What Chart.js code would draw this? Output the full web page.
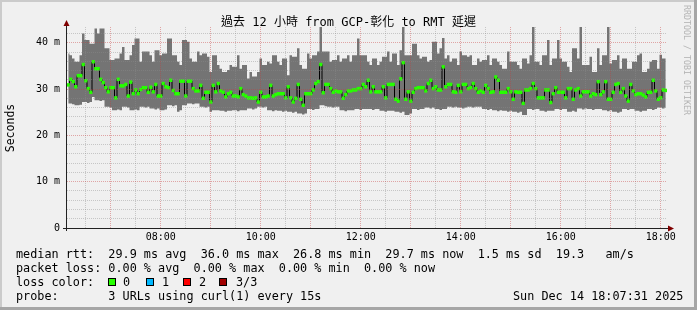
<!DOCTYPE html>
<html>
<head>
<meta charset="utf-8">
<script src="https://cdn.jsdelivr.net/npm/chart.js@4/dist/chart.umd.min.js"></script>
<style>
html, body { margin: 0; padding: 0; }
body { width: 697px; height: 310px; overflow: hidden; position: relative; background: #f0f0f0; }
#chart { position: absolute; left: 0; top: 0; }
.t { position: absolute; white-space: pre; font-family: "DejaVu Sans Mono", "Noto Sans CJK TC", monospace; color: #000; }
.leg { font-size: 11.8px; line-height: 14px; left: 16px; }
.box { position: absolute; width: 6px; height: 6px; border: 1px solid #000; }
.edge { position: absolute; }
</style>
</head>
<body>
<canvas id="chart" width="697" height="310"></canvas>

<div class="edge" style="left:0;top:0;width:697px;height:2px;background:#cbcbcb"></div>
<div class="edge" style="left:0;top:0;width:2px;height:310px;background:#cbcbcb"></div>
<div class="edge" style="left:0;top:307px;width:697px;height:3px;background:#a6a6a6"></div>
<div class="edge" style="left:694px;top:0;width:3px;height:310px;background:#a6a6a6"></div>

<div class="t" style="left:0;width:697px;top:14px;text-align:center;font-size:12px;line-height:16px">過去 12 小時 from GCP-彰化 to RMT 延遲</div>
<div class="t" style="left:-20px;top:121px;width:60px;text-align:center;font-size:11.5px;line-height:14px;transform:rotate(-90deg)">Seconds</div>
<div class="t" style="left:632px;top:55px;width:110px;text-align:center;font-size:8.3px;line-height:10px;color:#b4b4b4;transform:rotate(90deg)">RRDTOOL / TOBI OETIKER</div>

<div class="t leg" style="top:247px">median rtt:  29.9 ms avg  36.0 ms max  26.8 ms min  29.7 ms now  1.5 ms sd  19.3   am/s</div>
<div class="t leg" style="top:261px">packet loss: 0.00 % avg  0.00 % max  0.00 % min  0.00 % now</div>
<div class="t leg" style="top:275px">loss color:</div>
<div class="box" style="left:108px;top:278px;background:#26ff00"></div>
<div class="t leg" style="top:275px;left:123px">0</div>
<div class="box" style="left:146px;top:278px;background:#00b8ff"></div>
<div class="t leg" style="top:275px;left:162px">1</div>
<div class="box" style="left:183px;top:278px;background:#ff0000"></div>
<div class="t leg" style="top:275px;left:199px">2</div>
<div class="box" style="left:219px;top:278px;background:#a10000"></div>
<div class="t leg" style="top:275px;left:236px">3/3</div>
<div class="t leg" style="top:289px">probe:       3 URLs using curl(1) every 15s</div>
<div class="t leg" style="top:289px;left:513px">Sun Dec 14 18:07:31 2025</div>

<script>
// 12 hours ending Sun Dec 14 18:07:31, one value every 3 minutes (ms)
const startHour = 6 + 7.52 / 60;
const stepHours = 3 / 60;

const rttMedian = [
  30.9,32.1,31.6,30.5,32.9,32.9,35.3,31.8,30.1,29.3,35.9,34.4,34.4,32.1,31.4,30.3,29.4,30.3,30.3,28.1,
  32.1,30.7,30.7,31.0,28.5,31.5,29.0,29.8,29.0,29.9,30.3,30.3,29.3,30.4,29.4,31.0,28.5,28.5,31.2,30.5,
  30.3,31.9,29.7,29.0,29.0,31.7,31.7,28.5,31.7,31.7,30.1,29.6,29.6,30.8,28.0,29.3,29.3,27.2,30.8,29.4,
  31.2,29.6,29.3,28.3,29.0,29.3,28.5,28.5,28.3,30.1,28.8,28.5,28.1,28.1,28.0,28.1,27.2,29.3,28.3,28.3,
  28.5,30.8,28.5,28.8,29.0,29.0,29.0,28.1,30.5,28.1,27.2,28.0,31.0,27.8,26.5,29.0,29.0,29.0,29.8,31.2,
  31.6,35.3,29.2,31.0,31.0,30.1,29.3,29.6,29.4,29.4,28.0,28.8,29.6,29.6,29.8,29.8,30.1,30.1,31.0,30.5,
  31.9,29.4,30.5,29.4,29.4,29.4,30.5,28.1,31.0,31.0,31.0,27.8,27.4,32.2,35.7,27.8,29.4,27.4,29.3,30.1,
  30.3,30.3,30.3,29.6,31.2,31.9,30.1,30.5,29.8,29.8,34.8,30.5,31.0,31.0,29.4,29.3,30.8,29.4,31.0,31.0,
  30.1,30.3,31.2,30.1,29.3,29.6,29.3,30.8,30.1,29.3,29.4,32.6,31.9,29.3,29.3,29.3,30.1,29.4,27.8,29.4,
  29.3,29.3,26.9,29.8,29.8,30.1,31.2,30.1,28.1,28.1,28.1,29.8,29.8,27.1,29.0,30.3,29.3,29.3,29.3,28.1,
  30.1,30.1,27.8,29.8,30.1,28.5,29.4,29.4,29.4,28.5,29.0,28.8,31.6,28.8,29.4,31.6,27.8,27.8,29.3,31.0,
  31.2,29.3,30.1,28.5,27.4,31.0,29.6,28.8,29.0,29.0,28.7,28.3,29.3,29.3,31.9,29.6,27.8,28.1,29.8,29.7
];

const rttMax = [
  37.7,37.3,36.6,35.9,35.9,37.3,42.0,40.6,40.6,39.8,39.8,43.1,42.0,43.1,43.1,38.8,38.8,36.3,36.3,36.6,
  36.6,37.7,39.1,36.3,36.3,37.3,39.5,40.9,40.9,35.9,38.1,38.1,38.1,37.3,35.9,38.4,38.4,37.3,37.7,37.7,
  40.9,40.9,37.3,37.3,35.9,35.2,40.6,40.6,40.2,36.6,35.9,35.9,38.1,37.3,37.7,37.7,37.0,33.7,37.3,37.3,
  35.2,34.4,33.7,33.7,34.1,35.2,34.8,34.8,37.3,34.4,35.2,35.2,32.3,33.7,32.7,32.7,33.7,36.6,35.2,35.2,
  35.9,35.5,37.3,37.3,35.9,35.2,36.6,36.6,33.0,37.3,37.0,37.0,38.8,35.2,34.4,34.4,37.7,36.6,37.3,37.3,
  38.1,43.5,38.1,38.1,38.1,35.9,36.3,36.3,37.3,35.9,36.6,36.6,37.3,35.9,37.3,37.3,40.9,37.3,37.3,37.3,
  35.9,35.2,36.6,36.6,35.2,35.9,37.0,37.0,38.1,35.9,37.7,37.7,35.2,38.4,43.5,37.3,37.3,37.3,39.8,39.8,
  37.3,36.6,37.0,37.0,35.9,36.3,40.2,40.2,37.7,38.8,41.0,36.6,37.3,35.9,36.6,36.6,35.2,38.1,37.3,37.3,
  37.0,37.3,35.2,35.2,36.6,35.9,36.3,36.3,37.3,35.2,36.6,36.6,35.9,35.2,34.4,34.4,38.1,35.9,35.9,35.9,
  35.2,34.4,36.6,36.6,35.5,37.3,43.5,35.9,35.9,35.2,37.3,37.3,40.6,35.2,36.6,36.6,40.6,36.6,35.9,35.9,
  34.8,33.7,38.8,38.8,36.6,43.5,35.2,35.2,35.2,37.0,33.7,33.7,38.8,35.2,37.3,37.3,43.5,35.5,36.3,36.3,
  37.3,34.4,36.6,36.6,34.4,34.4,35.9,35.9,37.3,37.7,33.7,33.7,34.4,35.9,36.3,36.3,34.4,37.4,36.6,36.6
];

const rttMin = [
  26.9,26.9,26.7,26.5,26.5,26.6,27.2,27.2,27.0,27.2,28.3,27.6,27.6,27.4,27.6,26.2,26.2,26.0,25.4,25.4,
  25.6,25.4,26.2,26.2,26.0,25.4,25.4,25.6,25.4,26.2,26.2,26.0,26.2,25.8,25.8,25.6,25.8,25.4,25.4,25.6,
  26.5,26.5,26.3,26.5,25.1,25.4,26.5,26.5,26.9,26.9,26.7,26.9,26.9,26.2,26.2,26.0,26.2,25.1,25.4,25.4,
  25.4,25.3,25.3,25.1,25.3,25.3,25.4,25.4,25.2,25.4,25.4,25.4,25.8,25.8,25.6,25.8,26.2,26.2,26.0,26.2,
  25.4,25.4,25.2,25.4,25.3,25.3,25.1,25.3,25.1,25.1,24.9,25.1,24.7,24.7,24.5,24.7,25.7,25.7,25.5,25.7,
  25.7,26.5,26.5,26.3,26.2,26.2,26.0,26.2,26.2,25.4,25.4,25.2,25.4,25.4,25.4,25.7,25.7,25.5,25.7,25.7,
  25.7,25.7,25.5,25.7,25.7,25.3,25.3,25.1,25.3,25.3,25.3,25.1,25.1,24.9,25.1,24.4,24.4,24.7,25.7,25.7,
  25.5,25.7,25.7,26.0,26.0,25.8,26.0,25.7,25.7,25.5,25.7,25.7,26.2,26.2,26.0,26.2,26.0,26.0,25.8,26.0,
  26.2,26.2,26.0,26.2,26.2,26.2,25.7,25.7,25.5,25.7,25.4,25.4,25.2,25.4,25.3,25.3,25.1,25.3,25.1,25.1,
  24.9,25.1,24.4,24.4,25.7,25.7,25.5,25.7,25.7,25.3,25.3,25.1,25.3,25.3,25.3,25.7,25.7,25.5,25.7,25.7,
  25.1,25.1,25.3,25.1,25.8,25.8,25.6,25.8,25.7,25.7,25.5,25.7,25.7,25.7,25.4,25.4,25.2,25.4,25.1,25.1,
  24.9,25.1,25.7,25.7,25.5,25.7,25.7,25.3,25.3,25.1,25.3,25.3,25.7,25.7,25.5,25.7,26.0,26.0,25.8,26.0
];

const xTicks = [6.5,7,7.5,8,8.5,9,9.5,10,10.5,11,11.5,12,12.5,13,13.5,14,14.5,15,15.5,16,16.5,17,17.5,18];
const yTicks = [0,2,4,6,8,10,12,14,16,18,20,22,24,26,28,30,32,34,36,38,40,42];
const yTop = 43.4;

const mono = '"DejaVu Sans Mono", monospace';
const majorGrid = 'rgba(200,60,60,0.42)';
const minorGrid = 'rgba(140,140,140,0.42)';

const times = rttMedian.map(function(v, i) { return startHour + (i + 0.5) * stepHours; });

function points(values) {
  return times.map(function(t, i) { return { x: t, y: values[i] }; });
}

const axisPlugin = {
  id: 'rrdAxes',
  afterDraw: function(chart) {
    const c = chart.ctx;
    const a = chart.chartArea;
    c.save();
    c.strokeStyle = '#222';
    c.lineWidth = 1;
    c.beginPath();
    c.moveTo(a.left - 0.5, a.bottom + 3);
    c.lineTo(a.left - 0.5, a.top - 4);
    c.moveTo(a.left - 4, a.bottom + 0.5);
    c.lineTo(a.right + 4, a.bottom + 0.5);
    c.stroke();
    c.fillStyle = '#7f0000';
    c.beginPath();
    c.moveTo(a.left - 3.5, a.top - 1);
    c.lineTo(a.left + 2.5, a.top - 1);
    c.lineTo(a.left - 0.5, a.top - 7);
    c.closePath();
    c.fill();
    c.beginPath();
    c.moveTo(a.right + 1, a.bottom - 2.5);
    c.lineTo(a.right + 1, a.bottom + 3.5);
    c.lineTo(a.right + 7, a.bottom + 0.5);
    c.closePath();
    c.fill();
    c.restore();
  }
};

const myChart = new Chart(document.getElementById('chart'), {
  data: {
    datasets: [
      {
        // smoke: area between the slowest and fastest ping
        type: 'line',
        data: points(rttMax),
        stepped: 'middle',
        borderWidth: 0,
        pointRadius: 0,
        fill: '+1',
        backgroundColor: '#747474',
        order: 4
      },
      {
        type: 'line',
        data: points(rttMin),
        stepped: 'middle',
        borderWidth: 0,
        pointRadius: 0,
        fill: false,
        order: 3
      },
      {
        type: 'line',
        data: points(rttMedian),
        stepped: 'middle',
        borderColor: '#000',
        borderWidth: 1,
        pointRadius: 0,
        order: 2
      },
      {
        type: 'bar',
        data: times.map(function(t, i) { return { x: t, y: [rttMedian[i] - 0.3, rttMedian[i] + 0.3] }; }),
        backgroundColor: '#26ff00',
        barPercentage: 1,
        categoryPercentage: 1,
        grouped: false,
        order: 1
      }
    ]
  },
  options: {
    responsive: false,
    animation: false,
    events: [],
    layout: { padding: { left: 0, top: 27, right: 30, bottom: 0 } },
    plugins: { legend: { display: false }, tooltip: { enabled: false } },
    scales: {
      x: {
        type: 'linear',
        min: startHour,
        max: startHour + 12,
        offset: false,
        afterBuildTicks: function(s) { s.ticks = xTicks.map(function(v) { return { value: v }; }); },
        afterFit: function(s) { s.height = 82; },
        border: { display: false, dash: [1, 1] },
        grid: {
          z: 1,
          offset: false,
          drawTicks: false,
          color: function(c) { return c.tick && c.tick.value % 1 === 0 ? majorGrid : minorGrid; }
        },
        ticks: {
          autoSkip: false,
          maxRotation: 0,
          padding: 3,
          color: '#000',
          font: { family: mono, size: 10 },
          callback: function(v) { return v % 2 === 0 ? String(v).padStart(2, '0') + ':00' : ''; }
        }
      },
      y: {
        min: 0,
        max: yTop,
        afterBuildTicks: function(s) { s.ticks = yTicks.map(function(v) { return { value: v }; }); },
        afterFit: function(s) { s.width = 67; },
        border: { display: false, dash: [1, 1] },
        grid: {
          z: 1,
          drawTicks: false,
          color: function(c) {
            if (!c.tick || c.tick.value === 0) return 'rgba(0,0,0,0)';
            return c.tick.value % 10 === 0 ? majorGrid : minorGrid;
          }
        },
        ticks: {
          autoSkip: false,
          padding: 7,
          color: '#000',
          font: { family: mono, size: 10 },
          callback: function(v) { return v === 0 ? '0' : (v % 10 === 0 ? v + ' m' : ''); }
        }
      }
    }
  },
  plugins: [axisPlugin]
});
</script>
</body>
</html>
